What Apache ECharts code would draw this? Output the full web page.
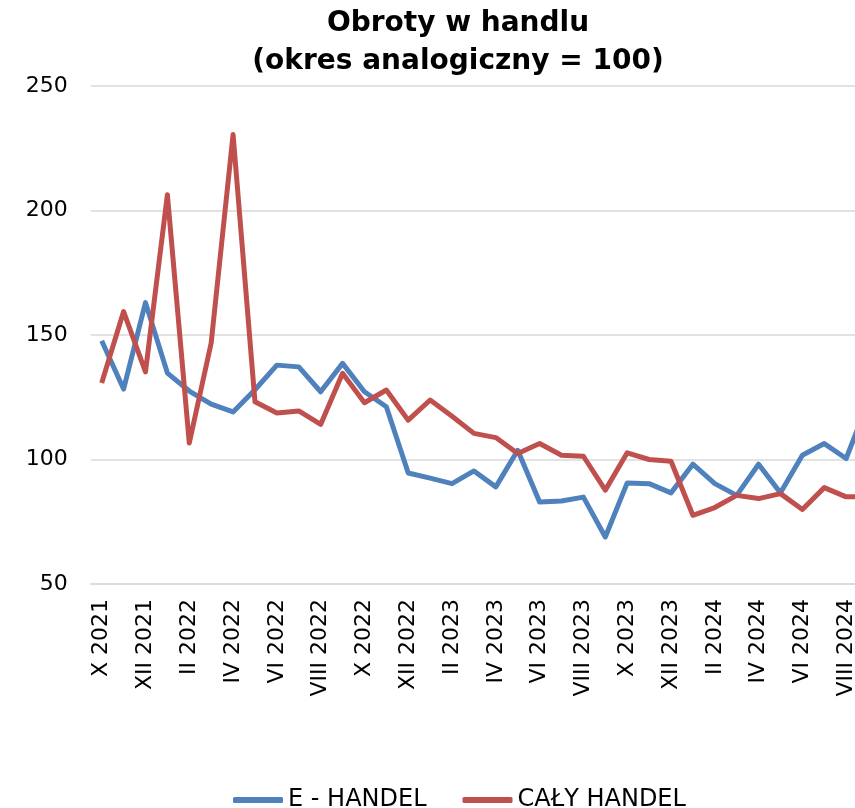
<!DOCTYPE html>
<html>
<head>
<meta charset="utf-8">
<script src="https://cdn.jsdelivr.net/npm/echarts@6/dist/echarts.min.js"></script>
<style>html,body{margin:0;padding:0;background:#fff;overflow:hidden;width:855px;height:808px;}#c{width:879px;height:808px;}</style>
</head>
<body>
<div id="c"></div>
<script>
var categories = ['X 2021','XI 2021','XII 2021','I 2022','II 2022','III 2022','IV 2022','V 2022','VI 2022','VII 2022','VIII 2022','IX 2022','X 2022','XI 2022','XII 2022','I 2023','II 2023','III 2023','IV 2023','V 2023','VI 2023','VII 2023','VIII 2023','IX 2023','X 2023','XI 2023','XII 2023','I 2024','II 2024','III 2024','IV 2024','V 2024','VI 2024','VII 2024','VIII 2024','IX 2024'];
var eHandel = [147.7,128.3,163,134.7,127.5,122.2,119.1,128,137.9,137.2,127.2,138.6,127.2,121.2,94.6,92.5,90.3,95.4,89,103.7,82.9,83.3,84.9,68.9,90.6,90.3,86.6,98.1,90.3,85.6,98.1,86.6,101.7,106.4,100.4,123];
var calyHandel = [130.7,159.4,135.2,206.3,106.6,146.8,230.5,123.2,118.7,119.5,114.1,134.6,122.8,127.9,115.8,123.9,117.4,110.5,108.8,102.4,106.4,101.7,101.3,87.7,102.7,100,99.3,77.6,80.7,85.6,84.3,86.3,79.9,88.7,85,85];
var yTicks = [50, 100, 150, 200, 250];

var chart = echarts.init(document.getElementById('c'));
chart.setOption({
  animation: false,
  backgroundColor: '#ffffff',
  title: {
    text: 'Obroty w handlu\n(okres analogiczny = 100)',
    left: 453, top: 0, textAlign: 'center',
    textStyle: {fontFamily: 'DejaVu Sans', fontWeight: 'bold', fontSize: 28, lineHeight: 38, color: '#000'}
  },
  legend: {
    left: 228, top: 783,
    itemWidth: 50, itemHeight: 6, itemGap: 36, itemTextGap: 4,
    icon: 'roundRect',
    textStyle: {fontFamily: 'DejaVu Sans', fontSize: 24, color: '#000'},
    data: ['E - HANDEL', 'CAŁY HANDEL']
  },
  grid: {left: 90.75, right: 0, top: 86, bottom: 224, containLabel: false},
  xAxis: {
    type: 'category', data: categories, boundaryGap: true,
    axisLine: {show: true, lineStyle: {color: '#d9d9d9', width: 1.5}},
    axisTick: {show: false},
    axisLabel: {interval: 1, rotate: 90, margin: 15, fontFamily: 'DejaVu Sans', fontSize: 22, color: '#000'}
  },
  yAxis: {
    type: 'value', min: yTicks[0], max: yTicks[yTicks.length - 1], interval: 50,
    axisLine: {show: false}, axisTick: {show: false},
    splitLine: {lineStyle: {color: '#d9d9d9', width: 1.5}},
    axisLabel: {margin: 23, fontFamily: 'DejaVu Sans', fontSize: 22, color: '#000'}
  },
  series: [
    {name: 'E - HANDEL', type: 'line', data: eHandel, symbol: 'none', color: '#4F81BD',
     lineStyle: {width: 5, color: '#4F81BD', join: 'round'}},
    {name: 'CAŁY HANDEL', type: 'line', data: calyHandel, symbol: 'none', color: '#C0504D',
     lineStyle: {width: 5, color: '#C0504D', join: 'round'}}
  ]
});
</script>
</body>
</html>
